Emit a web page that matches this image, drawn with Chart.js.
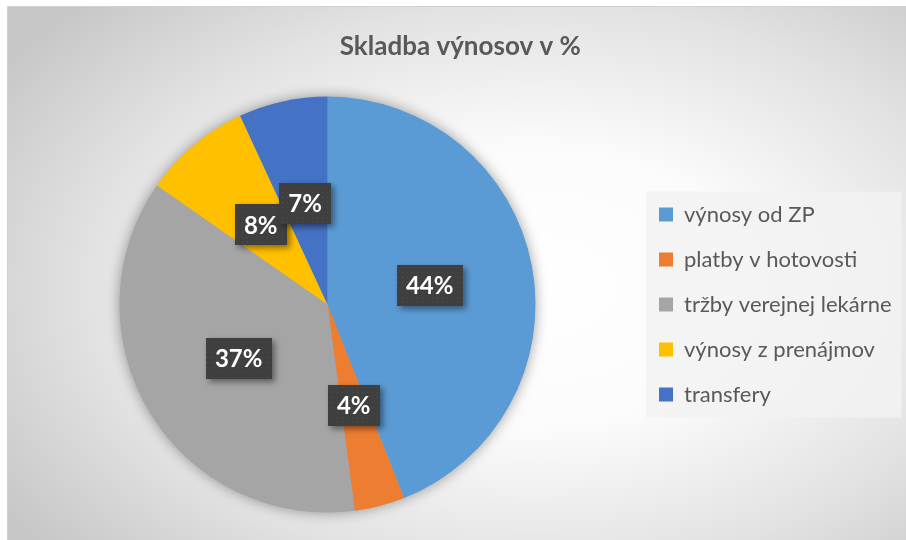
<!DOCTYPE html>
<html>
<head>
<meta charset="utf-8">
<script src="https://cdn.jsdelivr.net/npm/chart.js@4.4.1/dist/chart.umd.min.js"></script>
<style>
  html, body { margin: 0; padding: 0; background: #ffffff; }
  #frame {
    position: absolute; left: 7px; top: 6px; width: 906px; height: 540px;
    border: 1px solid #d0d0d0;
    background: radial-gradient(ellipse 70% 75% at 58% 52%, #ffffff 0%, #fbfbfb 35%, #e2e2e2 70%, #c7c7c7 100%);
  }
  #wrap { position: absolute; left: 0; top: 0; width: 906px; height: 540px; }
</style>
</head>
<body>
<div id="frame"></div>
<div id="wrap"><canvas id="chart" width="906" height="540"></canvas></div>
<script>
// Dáta grafu
const kategorie = ['výnosy od ZP', 'platby v hotovosti', 'tržby verejnej lekárne', 'výnosy z prenájmov', 'transfery'];
const podiely = [44, 3.9, 36.8, 8.4, 6.9];
const farby = ['#5B9BD5', '#ED7D31', '#A5A5A5', '#FFC000', '#4472C4'];
const nadpis = 'Skladba výnosov v %';

const FONT = 'Lato';
const legendFont = 22;
const legendPad = 23;
const boxX = 659; // ľavý okraj štvorčekov legendy

// šírka najdlhšej položky legendy, aby legenda sedela vpravo
const m = document.createElement('canvas').getContext('2d');
m.font = legendFont + 'px ' + FONT;
const textW = Math.max(...kategorie.map(t => m.measureText(t).width));
const padRight = Math.max(0, 906 - boxX - 14 - legendFont / 2 - textW - 10);
const legendLeft = boxX - legendPad;
const padLeft = Math.round(2 * 327.5 - legendLeft);

// vzorka pod štítkami (tmavé bodkované pozadie)
function vzorka() {
    const c = document.createElement('canvas');
    c.width = 5; c.height = 5;
    const g = c.getContext('2d');
    g.fillStyle = '#3f3f3f';
    g.fillRect(0, 0, 5, 5);
    g.fillStyle = '#4d4d4d';
    g.fillRect(2, 2, 1, 1);
    return g.createPattern(c, 'repeat');
}

// tieň pod koláčom
const tienKolaca = {
    id: 'tienKolaca',
    beforeDatasetsDraw(chart) {
        const arc = chart.getDatasetMeta(0).data[0];
        if (!arc) return;
        const ctx = chart.ctx;
        ctx.save();
        ctx.shadowColor = 'rgba(0,0,0,0.4)';
        ctx.shadowBlur = 14;
        ctx.fillStyle = '#a5a5a5';
        ctx.beginPath();
        ctx.arc(arc.x, arc.y, arc.outerRadius - 0.5, 0, Math.PI * 2);
        ctx.fill();
        ctx.restore();
    }
};

// štítky s percentami
const stitky = {
    id: 'stitky',
    afterDatasetsDraw(chart) {
        const ctx = chart.ctx;
        const meta = chart.getDatasetMeta(0);
        const data = chart.data.datasets[0].data;
        const total = data.reduce((s, v) => s + v, 0);
        const pattern = vzorka();
        ctx.save();
        ctx.font = 'bold 24px ' + FONT;
        ctx.textAlign = 'center';
        ctx.textBaseline = 'middle';
        meta.data.forEach((arc, i) => {
            const mid = (arc.startAngle + arc.endAngle) / 2;
            const x = arc.x + Math.cos(mid) * arc.outerRadius * 0.5;
            const y = arc.y + Math.sin(mid) * arc.outerRadius * 0.5;
            const text = Math.round(data[i] / total * 100) + '%';
            const w = ctx.measureText(text).width + 18;
            const h = 41;
            ctx.save();
            ctx.shadowColor = 'rgba(0,0,0,0.45)';
            ctx.shadowBlur = 6;
            ctx.shadowOffsetX = 3;
            ctx.shadowOffsetY = 3;
            ctx.fillStyle = pattern;
            ctx.fillRect(Math.round(x - w / 2), Math.round(y - h / 2), Math.round(w), h);
            ctx.restore();
            ctx.fillStyle = '#ffffff';
            ctx.fillText(text, x, y + 1);
        });
        ctx.restore();
    }
};

// podklad legendy
const podkladLegendy = {
    id: 'podkladLegendy',
    beforeDraw(chart) {
        const lg = chart.legend;
        if (!lg || !lg.legendHitBoxes.length) return;
        const boxes = lg.legendHitBoxes;
        const left = boxes[0].left - 13;
        const top = boxes[0].top - 12;
        const right = Math.max(...boxes.map(b => b.left + b.width)) + 10;
        const bottom = boxes[boxes.length - 1].top + boxes[boxes.length - 1].height + 12;
        const ctx = chart.ctx;
        ctx.save();
        ctx.fillStyle = 'rgba(242,242,242,0.85)';
        ctx.fillRect(left, top, right - left, bottom - top);
        ctx.restore();
    }
};

new Chart(document.getElementById('chart'), {
    type: 'pie',
    data: {
        labels: kategorie,
        datasets: [{
            data: podiely,
            backgroundColor: farby,
            borderWidth: 0,
            hoverOffset: 0,
            radius: 208
        }]
    },
    options: {
        responsive: false,
        animation: false,
        layout: {
            padding: { left: padLeft, right: padRight, top: 0, bottom: 3 }
        },
        plugins: {
            title: {
                display: true,
                text: nadpis,
                color: '#595959',
                font: { family: FONT, size: 26, weight: 'bold' },
                padding: { top: 31, bottom: 10 }
            },
            legend: {
                position: 'right',
                fullSize: false,
                labels: {
                    color: '#595959',
                    font: { family: FONT, size: legendFont },
                    boxWidth: 14,
                    boxHeight: 14,
                    padding: legendPad
                }
            },
            tooltip: { enabled: false }
        }
    },
    plugins: [podkladLegendy, tienKolaca, stitky]
});
</script>
</body>
</html>
